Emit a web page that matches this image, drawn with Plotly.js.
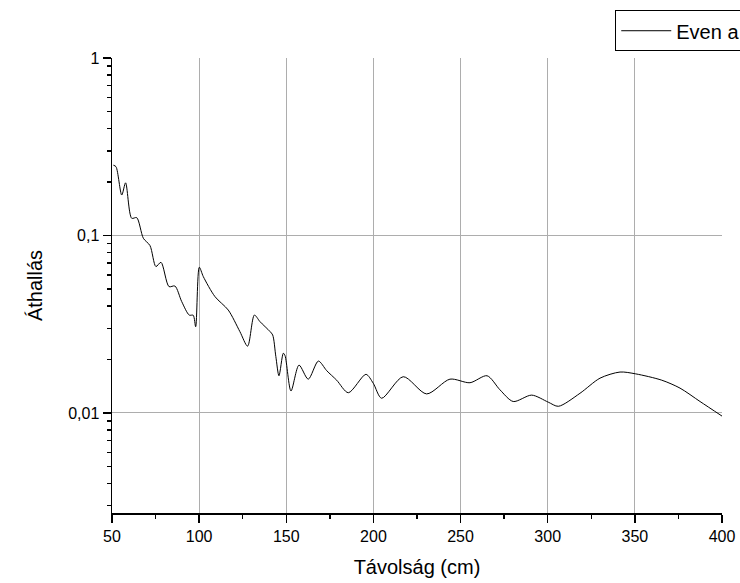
<!DOCTYPE html>
<html>
<head>
<meta charset="utf-8">
<script src="https://cdn.plot.ly/plotly-3.0.1.min.js"></script>
<style>html,body{margin:0;padding:0;background:#fff;}#chart{width:740px;height:583px;}</style>
</head>
<body>
<div id="chart"></div>
<script>
const distance = [50.8, 52.3, 55.6, 57.8, 61.3, 64.2, 68, 71.8, 75.2, 78.1, 82.7, 86.1, 90, 94.3, 96.6, 98, 100.1, 102.4, 109.1, 116.7, 123.4, 127.8, 131.7, 134.9, 140.6, 142.2, 144, 145.8, 148.3, 149.3, 152.7, 157.3, 162.6, 168.4, 173.2, 178.9, 185.6, 195.7, 199.9, 204.7, 217.1, 230.5, 243.9, 255.4, 265.2, 272.6, 280.2, 290.8, 300.3, 306.1, 318.5, 330, 341.5, 350.5, 365.4, 375.9, 387.4, 400];
const crosstalk = [0.249, 0.244, 0.169, 0.198, 0.125, 0.126, 0.0964, 0.0877, 0.0668, 0.0706, 0.0515, 0.0519, 0.0424, 0.0356, 0.0355, 0.0306, 0.0662, 0.0586, 0.0452, 0.0380, 0.0287, 0.0238, 0.0356, 0.0327, 0.0288, 0.0275, 0.0208, 0.0162, 0.0217, 0.0210, 0.0133, 0.0186, 0.0155, 0.0196, 0.0173, 0.0153, 0.0130, 0.0165, 0.0147, 0.0121, 0.0160, 0.0128, 0.0155, 0.0148, 0.0162, 0.0135, 0.0116, 0.0126, 0.0115, 0.0109, 0.0129, 0.0157, 0.0170, 0.0166, 0.0153, 0.0138, 0.0116, 0.0096];
const seriesName = "Even a";
const xTicks = [50, 100, 150, 200, 250, 300, 350, 400];
const yTickVals = [0.01, 0.1, 1];
const yTickText = ["0,01", "0,1", "1"];

const font = "Arial, 'Liberation Sans', sans-serif";
Plotly.newPlot('chart', [{
  x: distance, y: crosstalk, name: seriesName, type: 'scatter', mode: 'lines',
  line: {color: '#000', width: 1, shape: 'spline', smoothing: 0.8},
  showlegend: true
}], {
  width: 740, height: 583,
  margin: {l: 112, r: 18, t: 58, b: 70, autoexpand: false},
  paper_bgcolor: '#fff', plot_bgcolor: '#fff',
  font: {family: font, color: '#000', size: 16},
  showlegend: true,
  legend: {x: 0.825, y: 1.105, xanchor: 'left', yanchor: 'top', bordercolor: '#000', borderwidth: 1,
           bgcolor: '#fff', font: {family: font, size: 20}, itemwidth: 50, entrywidth: 200, tracegroupgap: 0},
  xaxis: {range: [50, 400], tickmode: 'array', tickvals: xTicks, ticks: 'outside', ticklen: 8, tickwidth: 1.5, tickcolor: '#000',
          showline: true, linecolor: '#000', linewidth: 1.5, showgrid: true, gridcolor: '#adadad', gridwidth: 1,
          zeroline: false, tickfont: {size: 16},
          minor: {tickmode: 'linear', tick0: 50, dtick: 25, ticks: 'outside', ticklen: 4, tickwidth: 1.5, tickcolor: '#000', showgrid: false},
          title: {text: 'Távolság (cm)', font: {size: 20}, standoff: 16}},
  yaxis: {type: 'log', range: [Math.log10(0.00273), 0], tickmode: 'array', tickvals: yTickVals, ticktext: yTickText,
          ticks: 'outside', ticklen: 8, tickwidth: 1.5, tickcolor: '#000', showline: true, linecolor: '#000', linewidth: 1.5,
          showgrid: true, gridcolor: '#adadad', gridwidth: 1, zeroline: false, tickfont: {size: 16},
          minor: {tickmode: 'linear', dtick: 'D1', ticks: 'outside', ticklen: 4, tickwidth: 1.5, tickcolor: '#000', showgrid: false},
          title: {text: 'Áthallás', font: {size: 20}, standoff: 20}}
}, {staticPlot: true});
</script>
</body>
</html>
